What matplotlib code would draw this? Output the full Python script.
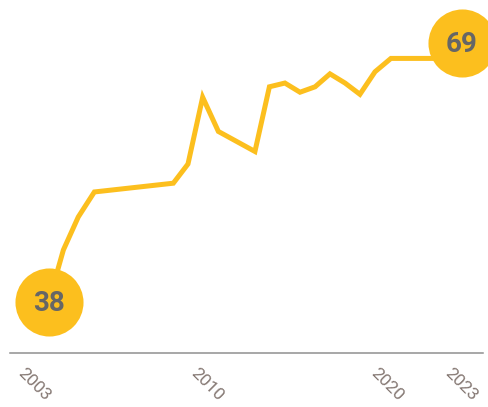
import matplotlib.pyplot as plt

# survey points (decimal year) and scores
years = [2003.00, 2003.71, 2004.43, 2005.21, 2009.03, 2009.74, 2010.45, 2011.21,
         2012.98, 2013.68, 2014.43, 2015.16, 2015.89, 2016.61, 2017.34, 2018.06,
         2018.79, 2019.56, 2021.98, 2023.00]
scores = [38.0, 44.2, 48.15, 51.15, 52.2, 54.5, 62.5, 58.4,
          56.0, 63.75, 64.2, 63.1, 63.75, 65.3, 64.2, 62.85,
          65.55, 67.15, 67.15, 69.0]
tick_labels = ['2003', '2010', '2020', '2023']
tick_pos = [2002.29, 2010.66, 2019.37, 2022.95]

yellow = '#FCBF1E'

fig = plt.figure(figsize=(4.88, 4.07), dpi=100)
ax = fig.add_axes([10 / 488, (407 - 352.7) / 407, 473 / 488, 352.7 / 407])

ax.plot(years, scores, color=yellow, lw=3.6, solid_joinstyle='miter', zorder=2)

# end point bubbles
for i in (0, -1):
    ax.plot(years[i], scores[i], 'o', ms=49, color=yellow, mec='none',
            clip_on=False, zorder=3)
    ax.text(years[i], scores[i] - 0.2, f'{scores[i]:.0f}', ha='center', va='center',
            fontsize=20, fontweight='bold', color='#666666',
            family='Roboto', zorder=4)

ax.set_xlim(2001.127, 2024.016)
ax.set_ylim(31.89, 74.15)

for s in ['top', 'left', 'right']:
    ax.spines[s].set_visible(False)
ax.spines['bottom'].set_color('#8f8f8f')
ax.spines['bottom'].set_linewidth(1.1)

ax.set_yticks([])
ax.set_xticks(tick_pos, tick_labels, rotation=-45, ha='center')
ax.tick_params(axis='x', length=0, pad=9, labelsize=12.5, labelcolor='#857873')
for lab in ax.get_xticklabels():
    lab.set_family('Roboto')

fig.savefig('out.png', dpi=100)
